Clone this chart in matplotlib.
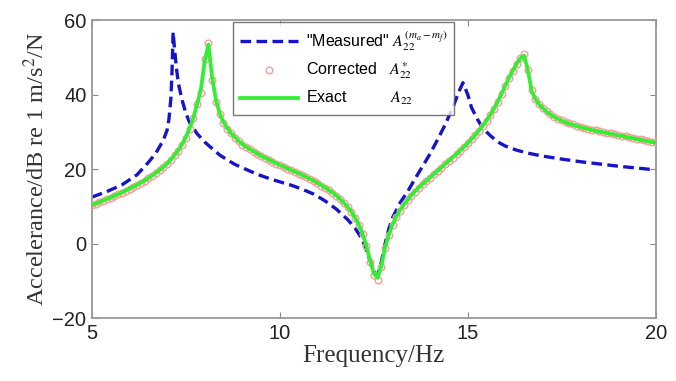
import numpy as np
import matplotlib
matplotlib.use("Agg")
import matplotlib.pyplot as plt

plt.rcParams['mathtext.fontset'] = 'stix'

# ---------------- data ----------------
freq_grid = [round(5.0 + 0.1 * i, 1) for i in range(151)]

exact_db = [
    10.4, 10.8, 11.2, 11.6, 12.0, 12.4, 12.9, 13.3, 13.8, 14.3,   # 5.0-5.9
    14.8, 15.3, 15.8, 16.4, 17.0, 17.6, 18.3, 19.0, 19.8, 20.6,   # 6.0-6.9
    21.5, 22.6, 23.8, 25.1, 26.7, 28.6, 31.0, 33.8, 37.5, 41.5,   # 7.0-7.9
    49.0, 53.5, 44.5, 38.5, 35.0, 32.6, 31.0, 29.7, 28.6, 27.6,   # 8.0-8.9
    26.7, 26.0, 25.4, 24.8, 24.2, 23.6, 23.1, 22.6, 22.1, 21.6,   # 9.0-9.9
    21.1, 20.7, 20.2, 19.8, 19.3, 18.9, 18.4, 17.9, 17.4, 16.9,   # 10.0-10.9
    16.3, 15.7, 15.1, 14.4, 13.7, 12.9, 12.0, 11.0, 9.9, 8.6,     # 11.0-11.9
    7.0, 5.1, 2.7, -0.5, -4.5, -8.0, -9.2, -6.0, -1.0, 2.5,       # 12.0-12.9
    5.2, 7.3, 9.0, 10.5, 11.8, 13.0, 14.1, 15.1, 16.0, 16.9,      # 13.0-13.9
    17.8, 18.7, 19.6, 20.5, 21.4, 22.3, 23.2, 24.1, 25.0, 26.0,   # 14.0-14.9
    27.0, 28.1, 29.2, 30.4, 31.7, 33.1, 34.6, 36.3, 38.2, 40.3,   # 15.0-15.9
    42.5, 44.6, 46.5, 48.3, 49.8, 50.5, 46.5, 41.0, 38.8, 37.4,   # 16.0-16.9
    36.4, 35.4, 34.7, 34.0, 33.5, 33.0, 32.6, 32.2, 31.9, 31.6,   # 17.0-17.9
    31.3, 31.0, 30.8, 30.5, 30.3, 30.1, 29.9, 29.7, 29.5, 29.3,   # 18.0-18.9
    29.1, 28.9, 28.7, 28.5, 28.3, 28.1, 27.9, 27.7, 27.5, 27.3,   # 19.0-19.9
    27.1,                                                         # 20.0
]

corrected_db = [
    10.3, 10.7, 11.1, 11.5, 11.9, 12.3, 12.8, 13.2, 13.7, 14.2,
    14.7, 15.2, 15.7, 16.3, 16.9, 17.5, 18.2, 18.9, 19.7, 20.5,
    21.4, 22.5, 23.7, 25.0, 26.6, 28.5, 30.9, 33.7, 37.4, 40.5,
    49.5, 54.0, 44.0, 38.0, 34.8, 32.5, 30.9, 29.6, 28.5, 27.5,
    26.6, 25.9, 25.3, 24.7, 24.1, 23.5, 23.0, 22.5, 22.0, 21.5,
    21.0, 20.6, 20.1, 19.7, 19.2, 18.8, 18.3, 17.8, 17.3, 16.8,
    16.2, 15.6, 15.0, 14.3, 13.6, 12.8, 11.9, 10.9, 9.8, 8.5,
    6.9, 5.0, 2.6, -0.6, -4.8, -8.5, -9.8, -6.3, -1.2, 2.4,
    5.1, 7.2, 8.9, 10.4, 11.7, 12.9, 14.0, 15.0, 15.9, 16.8,
    17.7, 18.6, 19.5, 20.4, 21.3, 22.2, 23.1, 24.0, 24.9, 25.9,
    26.9, 28.0, 29.1, 30.3, 31.6, 33.0, 34.5, 36.2, 38.1, 40.2,
    42.4, 44.5, 46.4, 48.3, 49.9, 50.8, 46.7, 41.2, 38.9, 37.5,
    36.5, 35.5, 34.8, 34.1, 33.6, 33.1, 32.7, 32.3, 32.0, 31.7,
    31.4, 31.1, 30.9, 30.6, 30.4, 30.2, 30.0, 29.8, 29.6, 29.4,
    29.2, 29.0, 28.8, 28.6, 28.4, 28.2, 28.0, 27.8, 27.6, 27.4,
    27.2,
]

measured_freq = [
    5.0, 5.4, 5.8, 6.2, 6.5, 6.7, 6.9, 7.0, 7.05, 7.1, 7.13, 7.16,
    7.2, 7.25, 7.3, 7.4, 7.5, 7.6, 7.7, 7.8, 8.0, 8.2, 8.4, 8.6, 8.8,
    9.0, 9.2, 9.4, 9.6, 9.8, 10.0, 10.3, 10.6, 10.9, 11.2, 11.5, 11.8,
    12.0, 12.2, 12.35, 12.5, 12.6, 12.7, 12.8, 12.9, 13.0, 13.2, 13.4,
    13.6, 13.8, 14.0, 14.2, 14.4, 14.6, 14.75, 14.87, 15.0, 15.1, 15.25,
    15.4, 15.6, 15.8, 16.0, 16.3, 16.6, 17.0, 17.5, 18.0, 18.5, 19.0,
    19.5, 20.0,
]
measured_db = [
    12.5, 14.0, 15.8, 18.5, 21.8, 24.3, 27.8, 30.5, 33.5, 39.0, 46.0, 56.8,
    52.0, 47.0, 43.0, 38.5, 35.0, 32.5, 31.0, 29.5, 27.3, 25.5, 23.8, 22.5, 21.3,
    20.4, 19.5, 18.6, 17.9, 17.2, 16.6, 15.7, 14.6, 13.3, 11.5, 9.3, 6.5,
    4.2, 1.0, -3.0, -7.5, -8.5, -5.0, 0.0, 4.0, 7.0, 11.0, 14.0,
    17.5, 20.8, 24.2, 28.0, 32.0, 36.5, 40.5, 43.2, 40.0, 36.5, 33.5,
    31.0, 29.0, 27.3, 26.2, 25.1, 24.3, 23.5, 22.7, 22.0, 21.4, 20.8,
    20.3, 19.8,
]

x_ticks = [5, 10, 15, 20]
y_ticks = [-20, 0, 20, 40, 60]

label_measured = '"Measured" $A_{22}^{(m_a-m_f)}$'
label_corrected = 'Corrected   $A_{22}^{*}$'
label_exact = 'Exact          $A_{22}$'

# ---------------- figure ----------------
fig = plt.figure(figsize=(6.76, 3.81), dpi=100)
ax = fig.add_axes([0.136, 0.165, 0.834, 0.782])

ax.plot(measured_freq, measured_db, color='#1414c8', lw=2.4,
        linestyle=(0, (3.2, 1.6)), label=label_measured, zorder=2)
ax.plot(freq_grid, corrected_db, linestyle='none', marker='o', markersize=4.8,
        markerfacecolor='none', markeredgecolor='#f2a09a', markeredgewidth=1.0,
        label=label_corrected, zorder=3)
ax.plot(freq_grid, exact_db, color='#33ee33', lw=2.7, label=label_exact, zorder=4)

ax.set_xlim(5, 20)
ax.set_ylim(-20, 60)
ax.set_xticks(x_ticks)
ax.set_yticks(y_ticks)
ax.tick_params(direction='in', length=4, width=0.8, color='#888888',
               labelsize=14.5, labelcolor='#222222', pad=4, top=True, right=True)
for lbl in ax.get_xticklabels() + ax.get_yticklabels():
    lbl.set_family('Liberation Sans')
for sp in ax.spines.values():
    sp.set_color('#999999')
    sp.set_linewidth(1.3)

ax.set_xlabel('Frequency/Hz', family='Liberation Serif', fontsize=18,
              color='#333333', labelpad=2)
ax.set_ylabel('Accelerance/dB re 1 m/s$^2$/N', family='Liberation Serif',
              fontsize=17.5, color='#333333', labelpad=2)

leg = ax.legend(loc='upper left', bbox_to_anchor=(0.25, 0.995), frameon=True,
                fancybox=False, prop={'family': 'Liberation Sans', 'size': 11.5},
                handlelength=3.6, handletextpad=0.5, labelspacing=0.5,
                borderpad=0.45, borderaxespad=0.0)
leg.get_frame().set_edgecolor('#555555')
leg.get_frame().set_linewidth(1.0)

fig.savefig('out.png', dpi=100)
